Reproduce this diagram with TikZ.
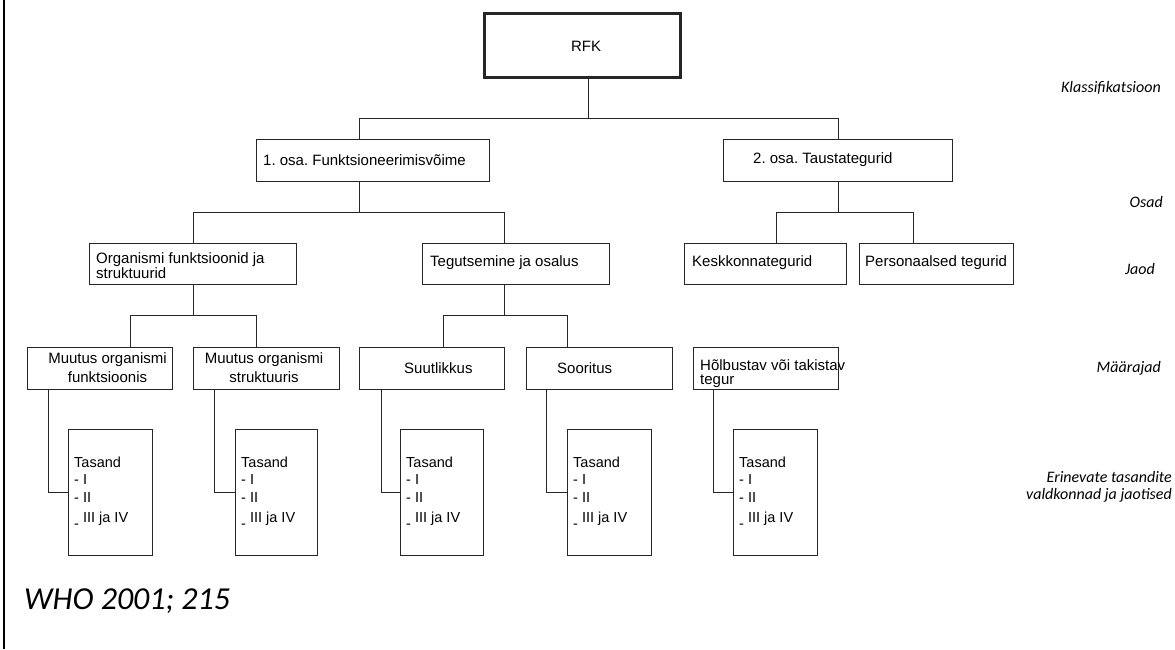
\documentclass[tikz,border=0pt]{standalone}
\usepackage{fontspec}
\setmainfont{Liberation Sans}
\newfontfamily\carlito{Carlito}
\frenchspacing
\begin{document}
\begin{tikzpicture}[x=1pt,y=-1pt,
  box/.style={draw=black!85, line width=1pt, rectangle, inner sep=0pt},
  txt/.style={inner sep=0pt, font=\fontsize{15}{17}\selectfont, align=left},
  side/.style={inner sep=0pt, font=\fontsize{16}{17}\selectfont\carlito\itshape, align=right},
  conn/.style={line width=1pt, draw=black!85}]
\useasboundingbox (0,0) rectangle (1175,649);
\draw[line width=2.5pt] (4,0) -- (4,649);

% boxes
\node[box, line width=3pt, minimum width=196pt, minimum height=64pt] (rfk) at (582,45) {};
\node[box, minimum width=233pt, minimum height=42pt] (osa1) at (372.5,160) {};
\node[box, minimum width=229pt, minimum height=42pt] (osa2) at (837.5,160) {};
\node[box, minimum width=207pt, minimum height=41pt] (org) at (192.5,263.5) {};
\node[box, minimum width=187pt, minimum height=41pt] (teg) at (515.5,263.5) {};
\node[box, minimum width=162pt, minimum height=41pt] (kesk) at (765,263.5) {};
\node[box, minimum width=154pt, minimum height=41pt] (pers) at (936,263.5) {};
\node[box, minimum width=145pt, minimum height=42pt] (muut1) at (99.5,368) {};
\node[box, minimum width=146pt, minimum height=42pt] (muut2) at (266,368) {};
\node[box, minimum width=145pt, minimum height=42pt] (suut) at (431.5,368) {};
\node[box, minimum width=146pt, minimum height=42pt] (soor) at (599,368) {};
\node[box, minimum width=145pt, minimum height=42pt] (hol) at (765.5,368) {};
\node[box, minimum width=84pt, minimum height=126pt] (tas1) at (110,492) {};
\node[box, minimum width=82pt, minimum height=126pt] (tas2) at (276,492) {};
\node[box, minimum width=83pt, minimum height=126pt] (tas3) at (441.5,492) {};
\node[box, minimum width=84pt, minimum height=126pt] (tas4) at (609,492) {};
\node[box, minimum width=84pt, minimum height=126pt] (tas5) at (775,492) {};

% texts
\node[txt] (t-rfk) at (586,46) {RFK};
\node[txt, anchor=west] (t-osa1) at (263,160) {1. osa. Funktsioneerimisvõime};
\node[txt, anchor=west] (t-osa2) at (753,160) {2. osa. Taustategurid};
\node[txt, anchor=west, font=\fontsize{15}{15}\selectfont] (t-org) at (96,265.5) {Organismi funktsioonid ja\\struktuurid};
\node[txt, anchor=west] (t-teg) at (430,263) {Tegutsemine ja osalus};
\node[txt, anchor=west] (t-kesk) at (692,263) {Keskkonnategurid};
\node[txt, anchor=west] (t-pers) at (865,263) {Personaalsed tegurid};
\node[txt, align=center, font=\fontsize{15}{19}\selectfont] (t-muut1) at (107.5,368) {Muutus organismi\\funktsioonis};
\node[txt, align=center, font=\fontsize{15}{19}\selectfont] (t-muut2) at (264,368) {Muutus organismi\\struktuuris};
\node[txt, anchor=west] (t-suut) at (404,368) {Suutlikkus};
\node[txt, anchor=west] (t-soor) at (557,368) {Sooritus};
\node[txt, anchor=west, font=\fontsize{15}{14}\selectfont] (t-hol) at (700,373.5) {Hõlbustav või takistav\\tegur};

\foreach \n/\x in {1/74,2/241,3/406,4/573,5/739}{
  \node[txt, anchor=north west, font=\fontsize{14.5}{17.5}\selectfont] (t-tas\n) at (\x,456.5)
    {Tasand\\- I\\- II\\[2.5pt]\raisebox{-6pt}{-} III ja IV};
}

% side labels
\node[side, anchor=east] (s1) at (1161,88) {Klassifikatsioon};
\node[side, anchor=east] (s2) at (1163,202) {Osad};
\node[side, anchor=east] (s3) at (1155,269) {Jaod};
\node[side, anchor=east] (s4) at (1161,368) {Määrajad};
\node[side, anchor=east] (s5) at (1172,487) {Erinevate tasandite\\valdkonnad ja jaotised};
\node[inner sep=0pt, anchor=west, font=\fontsize{32}{34}\selectfont\carlito\itshape] (who) at (24,601) {WHO 2001; 215};

% connectors
\coordinate (b0) at (588,118);
\coordinate (b1) at (359,118);
\coordinate (b2) at (838,118);
\draw[conn] (rfk.south -| b0) -- (b0);
\draw[conn] (osa1.north -| b1) -- (b1) -- (b2) -- (osa2.north -| b2);

\coordinate (c0) at (359,212);
\coordinate (c1) at (193,212);
\coordinate (c2) at (504,212);
\draw[conn] (osa1.south -| c0) -- (c0);
\draw[conn] (org.north -| c1) -- (c1) -- (c2) -- (teg.north -| c2);

\coordinate (d0) at (838,212);
\coordinate (d1) at (776,212);
\coordinate (d2) at (913,212);
\draw[conn] (osa2.south -| d0) -- (d0);
\draw[conn] (kesk.north -| d1) -- (d1) -- (d2) -- (pers.north -| d2);

\coordinate (e0) at (193,315);
\coordinate (e1) at (130,315);
\coordinate (e2) at (256,315);
\draw[conn] (org.south -| e0) -- (e0);
\draw[conn] (muut1.north -| e1) -- (e1) -- (e2) -- (muut2.north -| e2);

\coordinate (f0) at (504,315);
\coordinate (f1) at (443,315);
\coordinate (f2) at (567,315);
\draw[conn] (teg.south -| f0) -- (f0);
\draw[conn] (suut.north -| f1) -- (f1) -- (f2) -- (soor.north -| f2);

\coordinate (g1) at (48,492);
\coordinate (g2) at (214,492);
\coordinate (g3) at (381,492);
\coordinate (g4) at (546,492);
\coordinate (g5) at (713,492);
\draw[conn] (muut1.south -| g1) -- (g1) -- (tas1.west);
\draw[conn] (muut2.south -| g2) -- (g2) -- (tas2.west);
\draw[conn] (suut.south -| g3) -- (g3) -- (tas3.west);
\draw[conn] (soor.south -| g4) -- (g4) -- (tas4.west);
\draw[conn] (hol.south -| g5) -- (g5) -- (tas5.west);
\end{tikzpicture}
\end{document}
